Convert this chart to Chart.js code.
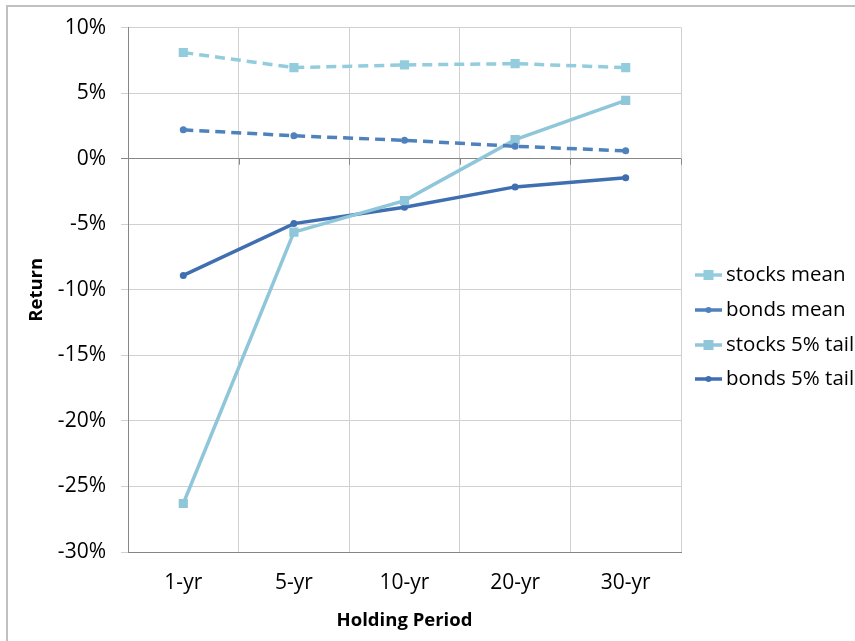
<!DOCTYPE html>
<html>
<head>
<meta charset="utf-8">
<script src="https://cdn.jsdelivr.net/npm/chart.js@4.4.0/dist/chart.umd.min.js"></script>
<style>
  html, body { margin: 0; padding: 0; background: #fff; }
  #wrap { width: 855px; height: 641px; position: relative; }
</style>
</head>
<body>
<div id="wrap"><canvas id="returnsChart" width="855" height="641"></canvas></div>
<script>
// Values (percent)
const periods = ["1-yr", "5-yr", "10-yr", "20-yr", "30-yr"];
const stocksMean = [8.1, 6.95, 7.15, 7.25, 6.95];
const bondsMean = [2.2, 1.75, 1.4, 0.95, 0.6];
const stocksTail = [-26.3, -5.6, -3.2, 1.45, 4.45];
const bondsTail = [-8.9, -4.95, -3.7, -2.15, -1.45];
const yTicks = [10, 5, 0, -5, -10, -15, -20, -25, -30];

const FONT = "'Open Sans', 'Noto Sans', sans-serif";
const STOCK_COLOR = "#93cddd";
const STOCK_TAIL_COLOR = "#8fc6d9";
const BOND_COLOR = "#4f81bd";
const BOND_TAIL_COLOR = "#3f6fb0";

// frame around the whole chart, plus small ticks on the zero line
const framePlugin = {
  id: "frame",
  beforeDraw(chart) {
    const c = chart.ctx;
    c.save();
    c.fillStyle = "#fff";
    c.fillRect(0, 0, chart.width, chart.height);
    c.strokeStyle = "#c0c0c0";
    c.lineWidth = 2;
    c.strokeRect(7, 6, chart.width + 10, chart.height + 10);
    c.restore();
  },
  beforeDatasetsDraw(chart) {
    const c = chart.ctx;
    const x = chart.scales.x;
    const y0 = chart.scales.y.getPixelForValue(0);
    const half = (x.getPixelForTick(1) - x.getPixelForTick(0)) / 2;
    c.save();
    c.strokeStyle = "#868686";
    c.lineWidth = 1;
    c.beginPath();
    for (let i = 0; i <= periods.length; i++) {
      const px = Math.round(x.getPixelForTick(0) - half + i * half * 2) + 0.5;
      c.moveTo(px, y0);
      c.lineTo(px, y0 + 6);
    }
    c.stroke();
    c.restore();
  },
};

// legend on the right: line with marker, then label
const legendPlugin = {
  id: "sideLegend",
  afterDraw(chart) {
    const c = chart.ctx;
    const x0 = 695, x1 = 722;
    const rows = [275, 310, 345, 379];
    c.save();
    chart.data.datasets.forEach((ds, i) => {
      const y = rows[i];
      c.strokeStyle = ds.borderColor;
      c.lineWidth = ds.borderWidth;
      c.beginPath();
      c.moveTo(x0, y);
      c.lineTo(x1, y);
      c.stroke();
      c.fillStyle = ds.pointBackgroundColor;
      const mid = (x0 + x1) / 2;
      if (ds.pointStyle === "rect") {
        c.fillRect(mid - 5, y - 5, 10, 10);
      } else {
        c.beginPath();
        c.arc(mid, y, 3, 0, Math.PI * 2);
        c.fill();
      }
      c.fillStyle = "#000";
      c.font = "20.5px " + FONT;
      c.textBaseline = "middle";
      c.fillText(ds.label, 726, y);
    });
    c.restore();
  },
};

function lineSet(label, data, color, dashed, square) {
  return {
    label: label,
    data: data,
    borderColor: color,
    backgroundColor: color,
    pointBackgroundColor: color,
    pointBorderColor: color,
    borderWidth: 3.5,
    borderDash: dashed ? [10, 6] : [],
    pointStyle: square ? "rect" : "circle",
    pointRadius: square ? 6.5 : 3.5,
    pointBorderWidth: 0,
    tension: 0,
    fill: false,
  };
}

const ctx = document.getElementById("returnsChart").getContext("2d");
new Chart(ctx, {
  type: "line",
  data: {
    labels: periods,
    datasets: [
      lineSet("stocks mean", stocksMean, STOCK_COLOR, true, true),
      lineSet("bonds mean", bondsMean, BOND_COLOR, true, false),
      lineSet("stocks 5% tail", stocksTail, STOCK_TAIL_COLOR, false, true),
      lineSet("bonds 5% tail", bondsTail, BOND_TAIL_COLOR, false, false),
    ],
  },
  options: {
    responsive: false,
    animation: false,
    layout: { padding: { left: 26, top: 27, right: 174, bottom: 9 } },
    plugins: {
      legend: { display: false },
      tooltip: { enabled: false },
    },
    scales: {
      x: {
        offset: true,
        grid: { offset: true, color: "#d0d0d0", drawTicks: false },
        border: { color: "#868686" },
        ticks: { color: "#000", font: { family: FONT, size: 21 }, padding: 18 },
        title: {
          display: true,
          text: "Holding Period",
          color: "#000",
          font: { family: FONT, size: 18.5, weight: "bold" },
          padding: { top: 4, bottom: 0 },
        },
        afterFit(scale) { scale.height = 80; },
      },
      y: {
        min: -30,
        max: 10,
        afterBuildTicks(scale) {
          scale.ticks = yTicks.map((v) => ({ value: v }));
        },
        grid: {
          color: (c) => (c.tick && c.tick.value === 0 ? "#868686" : "#d0d0d0"),
          tickLength: 7,
        },
        border: { color: "#868686" },
        ticks: {
          color: "#000",
          font: { family: FONT, size: 21 },
          padding: 15,
          callback: (v) => v + "%",
        },
        title: {
          display: true,
          text: "Return",
          color: "#000",
          font: { family: FONT, size: 18.5, weight: "bold" },
          padding: { top: 0, bottom: 0 },
        },
        afterFit(scale) { scale.width = 102; },
      },
    },
  },
  plugins: [framePlugin, legendPlugin],
});
</script>
</body>
</html>
